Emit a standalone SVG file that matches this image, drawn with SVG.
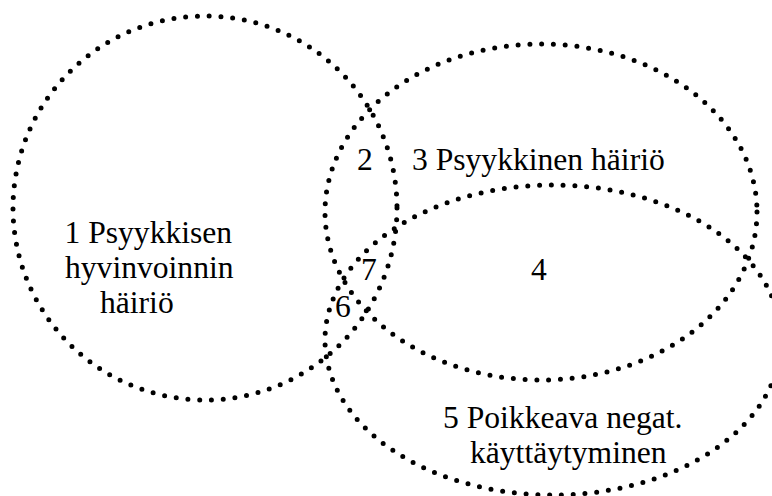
<svg xmlns="http://www.w3.org/2000/svg" width="772" height="496" viewBox="0 0 772 496">
<style>
.dot{fill:none;stroke:#000;stroke-width:5;stroke-linecap:round;stroke-dasharray:0 11.8}
.t{font-size:31.6px;fill:#000}
</style>
<rect width="772" height="496" fill="#fff"/>
<g font-family="Liberation Serif, Tinos, DejaVu Serif, serif">
<g id="set1">
<ellipse class="dot" cx="205" cy="208" rx="192" ry="192"/>
<text class="t" x="64.5" y="243">1 Psyykkisen</text>
<text class="t" x="65" y="278">hyvinvoinnin</text>
<text class="t" x="100" y="313">häiriö</text>
</g>
<g id="set3">
<ellipse class="dot" cx="541" cy="212" rx="216" ry="168"/>
<text class="t" x="412" y="170">3 Psyykkinen häiriö</text>
</g>
<g id="set5">
<ellipse class="dot" cx="553" cy="340" rx="228" ry="155"/>
<text class="t" x="443" y="428">5 Poikkeava negat.</text>
<text class="t" x="470" y="463">käyttäytyminen</text>
</g>
<g id="regions">
<text class="t" x="357" y="170">2</text>
<text class="t" x="361" y="280">7</text>
<text class="t" x="531" y="280">4</text>
<text class="t" x="335" y="317">6</text>
</g>
</g>
</svg>
